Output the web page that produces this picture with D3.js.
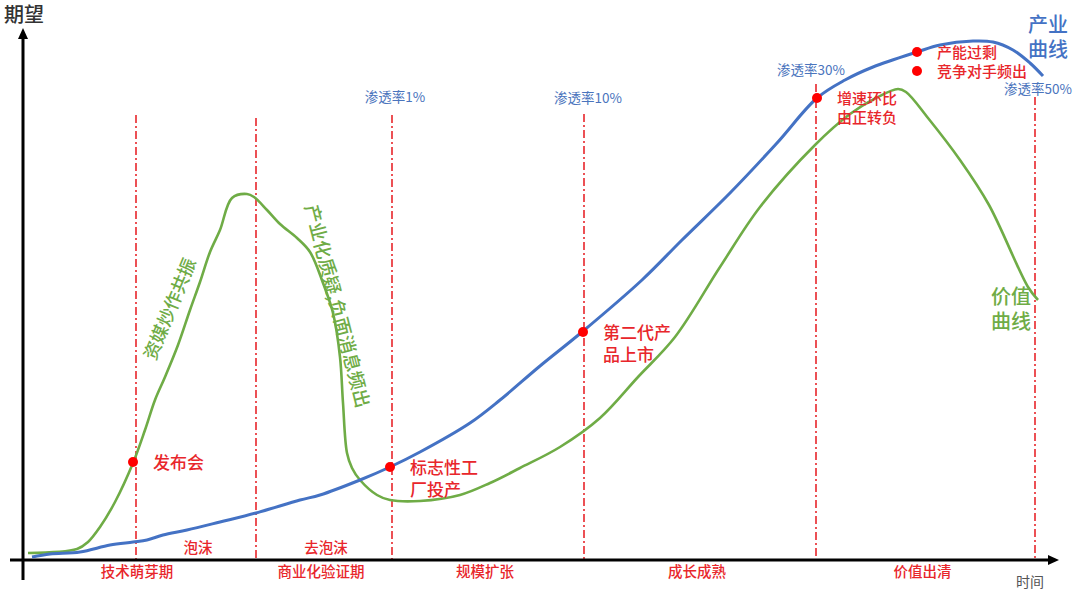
<!DOCTYPE html>
<html>
<head>
<meta charset="utf-8">
<script src="https://cdn.jsdelivr.net/npm/d3@7"></script>
<style>
  body { margin: 0; background: #fff; }
  text { font-family: "Noto Sans CJK SC", "Noto Sans", sans-serif; }
</style>
</head>
<body>
<div id="chart"></div>
<script>
// ---- data: [time, expectation] ----
var industryCurve = [
  [0.8, 0.3], [2.6, 0.6], [5.6, 0.8], [8.6, 1.5], [10.9, 1.8], [12.3, 2.0],
  [13.9, 2.5], [16.3, 3.0], [19.6, 3.8], [23.2, 4.7], [27.6, 6.0], [29.6, 6.5],
  [33.6, 8.0], [36.6, 9.3], [39.6, 10.8], [44.6, 13.7], [47.6, 16.0],
  [51.6, 19.4], [55.8, 22.8], [61.8, 28.0], [65.8, 32.0], [70.6, 36.7], [75.3, 41.7],
  [79.3, 46.2], [82.1, 48.0], [84.9, 49.3], [89.3, 50.8], [91.6, 51.5], [94.9, 51.9],
  [96.9, 51.8], [98.9, 51.0], [100.6, 49.7], [101.9, 48.4]
];

var valueCurve = [
  [0.4, 0.7], [5.3, 1.1], [6.4, 1.8], [7.6, 3.3], [9.1, 5.8], [10.9, 9.7],
  [12.1, 13.0], [13.1, 16.0], [14.1, 18.3], [15.4, 21.5], [16.6, 25.0], [17.6, 27.8],
  [18.6, 30.8], [19.6, 33.0], [20.8, 36.2], [22.3, 36.6], [23.0, 36.3], [24.3, 35.0],
  [25.6, 33.6], [27.3, 32.2], [28.6, 30.8], [29.9, 27.7], [30.9, 24.7], [31.6, 20.3],
  [31.9, 15.7], [32.3, 10.7], [32.8, 9.2], [33.6, 8.0], [35.3, 6.5], [36.6, 6.0],
  [39.6, 5.9], [43.6, 6.5], [46.6, 7.7], [49.6, 9.2], [53.6, 11.3], [57.6, 14.2],
  [61.4, 18.3], [65.1, 22.3], [69.6, 29.3], [73.6, 35.3], [79.1, 41.5], [82.6, 44.6],
  [85.2, 46.2], [87.4, 47.1], [88.2, 46.8], [90.4, 44.2], [93.6, 40.0], [96.5, 35.5],
  [100.4, 27.3], [101.4, 26.0]
];

var phaseBounds = [0, 23.2, 36.8, 56.0, 79.2, 101.1];
var phaseNames = ["技术萌芽期", "商业化验证期", "规模扩张", "成长成熟", "价值出清"];
var subPhaseBounds = [11.2, 23.2, 36.8];
var subPhaseNames = ["泡沫", "去泡沫"];

var markerT = [11.2, 23.2, 36.8, 56.0, 79.2, 101.1];
var markerTop = [44.5, 44.2, 44.5, 44.6, 47.6, 46.3];
var penetration = ["", "", "渗透率1%", "渗透率10%", "渗透率30%", "渗透率50%"];

var eventNames = [["发布会"], ["标志性工", "厂投产"], ["第二代产", "品上市"],
                  ["增速环比", "由正转负"], ["产能过剩"], ["竞争对手频出"]];
var eventT = [10.9, 36.6, 55.9, 79.3, 89.3, 89.3];
var eventV = [9.8, 9.3, 22.8, 46.2, 50.8, 48.9];

// ---- layout ----
var svgWidth = 1080;
var svgHeight = 603;

var blue = "#4472c4";
var green = "#6fac46";
var red = "#e8262b";

var svg = d3.select("#chart")
  .append("svg")
  .attr("width", svgWidth)
  .attr("height", svgHeight);

svg.append("rect")
  .attr("width", svgWidth)
  .attr("height", svgHeight)
  .attr("fill", "#fff");

var x = d3.scaleLinear().domain([0, 103.5]).range([24, 1059]);
var y = d3.scaleLinear().domain([0, 53]).range([560, 30]);

// dash-dot milestone lines
svg.append("g")
  .selectAll("line")
  .data(markerT)
  .enter()
  .append("line")
  .attr("x1", d => x(d))
  .attr("x2", d => x(d))
  .attr("y1", (d, i) => y(markerTop[i]))
  .attr("y2", y(0))
  .attr("stroke", red)
  .attr("stroke-width", 1.6)
  .attr("stroke-dasharray", "8,3,2,3");

// penetration labels above the lines
var penLabelV = [0, 0, 46.3, 46.2, 49.0, 47.1];
var penShift = [0, 0, 3, 4, -5, 3];
svg.append("g")
  .selectAll("text")
  .data(penetration)
  .enter()
  .append("text")
  .attr("x", (d, i) => x(markerT[i]) + penShift[i])
  .attr("y", (d, i) => y(penLabelV[i]))
  .attr("dy", "0.35em")
  .attr("text-anchor", "middle")
  .attr("fill", "#4a74bd")
  .style("font-size", "13.5px")
  .text(d => d);

// axes
svg.append("line")
  .attr("x1", 10).attr("x2", x(103.5) - 8)
  .attr("y1", y(0)).attr("y2", y(0))
  .attr("stroke", "#000").attr("stroke-width", 3);
svg.append("path")
  .attr("d", `M${x(103.5)},${y(0)} l-11,-5 l0,10 z`)
  .attr("fill", "#000");

svg.append("line")
  .attr("x1", x(0) - 1).attr("x2", x(0) - 1)
  .attr("y1", 580).attr("y2", y(53) + 8)
  .attr("stroke", "#000").attr("stroke-width", 3);
svg.append("path")
  .attr("d", `M${x(0) - 1},${y(53) - 2} l-5,11 l10,0 z`)
  .attr("fill", "#000");

svg.append("text")
  .attr("x", 4).attr("y", 15).attr("dy", "0.35em")
  .attr("fill", "#333")
  .style("font-size", "20px")
  .style("font-weight", 500)
  .text("期望");

svg.append("text")
  .attr("x", 1030).attr("y", 582).attr("dy", "0.35em")
  .attr("text-anchor", "middle")
  .attr("fill", "#555")
  .style("font-size", "14px")
  .text("时间");

// curves
var line = d3.line()
  .x(d => x(d[0]))
  .y(d => y(d[1]))
  .curve(d3.curveCatmullRom.alpha(0.5));

svg.append("path")
  .datum(valueCurve)
  .attr("d", line)
  .attr("fill", "none")
  .attr("stroke", green)
  .attr("stroke-width", 2.6)
  .attr("stroke-linejoin", "round");

svg.append("path")
  .datum(industryCurve)
  .attr("d", line)
  .attr("fill", "none")
  .attr("stroke", blue)
  .attr("stroke-width", 3)
  .attr("stroke-linejoin", "round");

// phase labels
svg.append("g")
  .selectAll("text")
  .data(phaseNames)
  .enter()
  .append("text")
  .attr("x", (d, i) => (x(phaseBounds[i]) + x(phaseBounds[i + 1])) / 2 - 3)
  .attr("y", 572)
  .attr("dy", "0.35em")
  .attr("text-anchor", "middle")
  .attr("fill", red)
  .style("font-size", "14.5px")
  .style("font-weight", 500)
  .text(d => d);

svg.append("g")
  .selectAll("text")
  .data(subPhaseNames)
  .enter()
  .append("text")
  .attr("x", (d, i) => (x(subPhaseBounds[i]) + x(subPhaseBounds[i + 1])) / 2 + 2)
  .attr("y", 548)
  .attr("dy", "0.35em")
  .attr("text-anchor", "middle")
  .attr("fill", red)
  .style("font-size", "14.5px")
  .style("font-weight", 500)
  .text(d => d);

// events: dots + labels
svg.append("g")
  .selectAll("circle")
  .data(eventT)
  .enter()
  .append("circle")
  .attr("cx", d => x(d))
  .attr("cy", (d, i) => y(eventV[i]))
  .attr("r", 5)
  .attr("fill", "#ff0000");

var eventLabels = svg.append("g")
  .selectAll("text")
  .data(eventNames)
  .enter()
  .append("text")
  .attr("fill", red)
  .style("font-weight", 500)
  .style("font-size", (d, i) => i < 3 ? "17px" : "15px");

eventLabels.selectAll("tspan")
  .data((d, i) => d.map(s => ({ s: s, i: i })))
  .enter()
  .append("tspan")
  .attr("x", d => x(eventT[d.i]) + 20)
  .attr("y", (d, j) => y(eventV[d.i]) + 1 + j * (d.i < 3 ? 22 : 19))
  .attr("dy", "0.35em")
  .text(d => d.s);

// rotated green notes
svg.append("text")
  .attr("transform", "translate(170,309) rotate(-67.5)")
  .attr("text-anchor", "middle")
  .attr("dy", "0.35em")
  .attr("fill", green)
  .style("font-size", "18px")
  .style("font-weight", 500)
  .text("资媒炒作共振");

svg.append("text")
  .attr("transform", "translate(337,306) rotate(75.5)")
  .attr("text-anchor", "middle")
  .attr("dy", "0.35em")
  .attr("fill", green)
  .style("font-size", "18.5px")
  .style("font-weight", 500)
  .text("产业化质疑,负面消息频出");

// curve names
var bEnd = industryCurve[industryCurve.length - 1];
svg.append("text")
  .attr("fill", blue)
  .style("font-size", "20px")
  .style("font-weight", 500)
  .selectAll("tspan")
  .data(["产业", "曲线"])
  .enter()
  .append("tspan")
  .attr("x", x(bEnd[0]) - 15)
  .attr("y", (d, i) => y(bEnd[1]) - 51 + i * 25)
  .attr("dy", "0.35em")
  .text(d => d);

var gEnd = valueCurve[valueCurve.length - 1];
svg.append("text")
  .attr("fill", green)
  .style("font-size", "20px")
  .style("font-weight", 500)
  .selectAll("tspan")
  .data(["价值", "曲线"])
  .enter()
  .append("tspan")
  .attr("x", x(gEnd[0]) - 47)
  .attr("y", (d, i) => y(gEnd[1]) - 3 + i * 25)
  .attr("dy", "0.35em")
  .text(d => d);
</script>
</body>
</html>
